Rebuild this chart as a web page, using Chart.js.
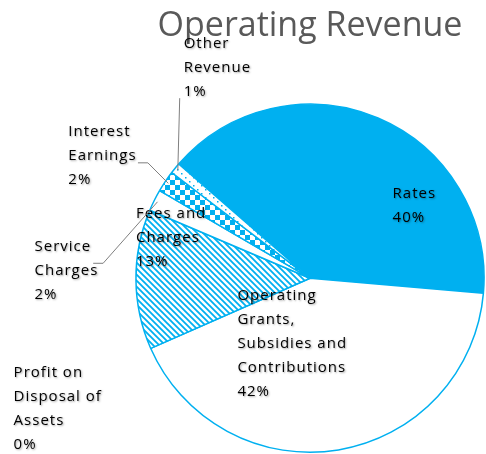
<!DOCTYPE html>
<html lang="en">
<head>
<meta charset="UTF-8">
<title>Operating Revenue</title>
<script src="https://cdn.jsdelivr.net/npm/chart.js"></script>
<style>
  html, body { margin: 0; padding: 0; background: #fff; }
</style>
</head>
<body>
<canvas id="revenueChart" width="486" height="454"></canvas>
<script>
// data
const categories = ['Rates', 'Operating Grants, Subsidies and Contributions', 'Profit on Disposal of Assets',
                    'Fees and Charges', 'Service Charges', 'Interest Earnings', 'Other Revenue'];
const shares = [40, 42, 0, 13, 2, 2, 1];
const labelLines = [
  ['Rates'],
  ['Operating', 'Grants,', 'Subsidies and', 'Contributions'],
  ['Profit on', 'Disposal of', 'Assets'],
  ['Fees and', 'Charges'],
  ['Service', 'Charges'],
  ['Interest', 'Earnings'],
  ['Other', 'Revenue']
];

const BLUE = '#00B0F0';

// small canvas tiles used as fill patterns
function makePattern(kind) {
  const c = document.createElement('canvas');
  const g = c.getContext('2d');
  if (kind === 'stripes') {
    c.width = c.height = 6;
    g.fillStyle = '#fff'; g.fillRect(0, 0, 6, 6);
    g.strokeStyle = BLUE; g.lineWidth = 1.8;
    g.beginPath();
    g.moveTo(-1, -1); g.lineTo(7, 7);
    g.moveTo(5, -1); g.lineTo(7, 1);
    g.moveTo(-1, 5); g.lineTo(1, 7);
    g.stroke();
  } else if (kind === 'checker') {
    c.width = c.height = 10;
    g.fillStyle = '#fff'; g.fillRect(0, 0, 10, 10);
    g.fillStyle = BLUE;
    g.fillRect(0, 0, 5, 5); g.fillRect(5, 5, 5, 5);
  } else {
    c.width = c.height = 8;
    g.fillStyle = '#fff'; g.fillRect(0, 0, 8, 8);
    g.fillStyle = BLUE;
    g.fillRect(1, 1, 1.5, 1.5); g.fillRect(5, 5, 1.5, 1.5);
  }
  const ctx = document.createElement('canvas').getContext('2d');
  return ctx.createPattern(c, 'repeat');
}

const fills = [BLUE, '#fff', '#fff', makePattern('stripes'), '#fff', makePattern('checker'), makePattern('dots')];

// label placement, offsets from the pie centre (at radius 175)
const labelOffsets = [[83, -85], [-73, 18], [-298, 95], [-175, -65], [-277, -32], [-243, -147], [-127, -236]];
// leader line start points (null = no leader)
const leaderStarts = [null, null, null, null, [[-218, -15], [-208, -15]], [[-173, -116], [-163, -116]], [[-131, -181]]];

const labelPlugin = {
  id: 'sliceLabels',
  afterDatasetsDraw(chart) {
    const ctx = chart.ctx;
    const arcs = chart.getDatasetMeta(0).data;
    const total = shares.reduce((a, b) => a + b, 0);
    ctx.save();
    arcs.forEach((arc, i) => {
      const cx = arc.x, cy = arc.y, s = arc.outerRadius / 175;
      // leader line
      if (leaderStarts[i]) {
        const mid = (arc.startAngle + arc.endAngle) / 2;
        ctx.beginPath();
        leaderStarts[i].forEach((p, k) => {
          const px = cx + p[0] * s, py = cy + p[1] * s;
          if (k === 0) ctx.moveTo(px, py); else ctx.lineTo(px, py);
        });
        ctx.lineTo(cx + Math.cos(mid) * arc.outerRadius * 0.98, cy + Math.sin(mid) * arc.outerRadius * 0.98);
        ctx.strokeStyle = '#7f7f7f';
        ctx.lineWidth = 1;
        ctx.stroke();
      }
      const lines = labelLines[i].concat([Math.round(shares[i] / total * 100) + '%']);
      const x = cx + labelOffsets[i][0] * s;
      const y = cy + labelOffsets[i][1] * s;
      ctx.font = '15px "Open Sans", sans-serif';
      ctx.letterSpacing = '1px';
      ctx.textBaseline = 'middle';
      ctx.textAlign = 'left';
      ctx.fillStyle = '#000';
      ctx.shadowColor = 'rgba(0,0,0,0.35)';
      ctx.shadowBlur = 2;
      ctx.shadowOffsetX = 1;
      ctx.shadowOffsetY = 1;
      lines.forEach((t, k) => ctx.fillText(t, x, y + k * 24));
      ctx.shadowColor = 'transparent';
    });
    ctx.restore();
  }
};

new Chart(document.getElementById('revenueChart'), {
  type: 'pie',
  data: {
    labels: categories,
    datasets: [{
      data: shares,
      backgroundColor: fills,
      borderColor: [BLUE, BLUE, BLUE, BLUE, BLUE, BLUE, BLUE],
      borderWidth: 1.5
    }]
  },
  options: {
    responsive: false,
    animation: false,
    rotation: -49,
    layout: { padding: { top: 0, left: 135, right: 1, bottom: 1 } },
    plugins: {
      legend: { display: false },
      tooltip: { enabled: false },
      title: {
        display: true,
        text: 'Operating Revenue',
        color: '#595959',
        font: { family: 'Open Sans', size: 34, weight: 'normal', lineHeight: 1.1 },
        padding: { top: 8, bottom: 58 }
      }
    }
  },
  plugins: [labelPlugin]
});
</script>
</body>
</html>
